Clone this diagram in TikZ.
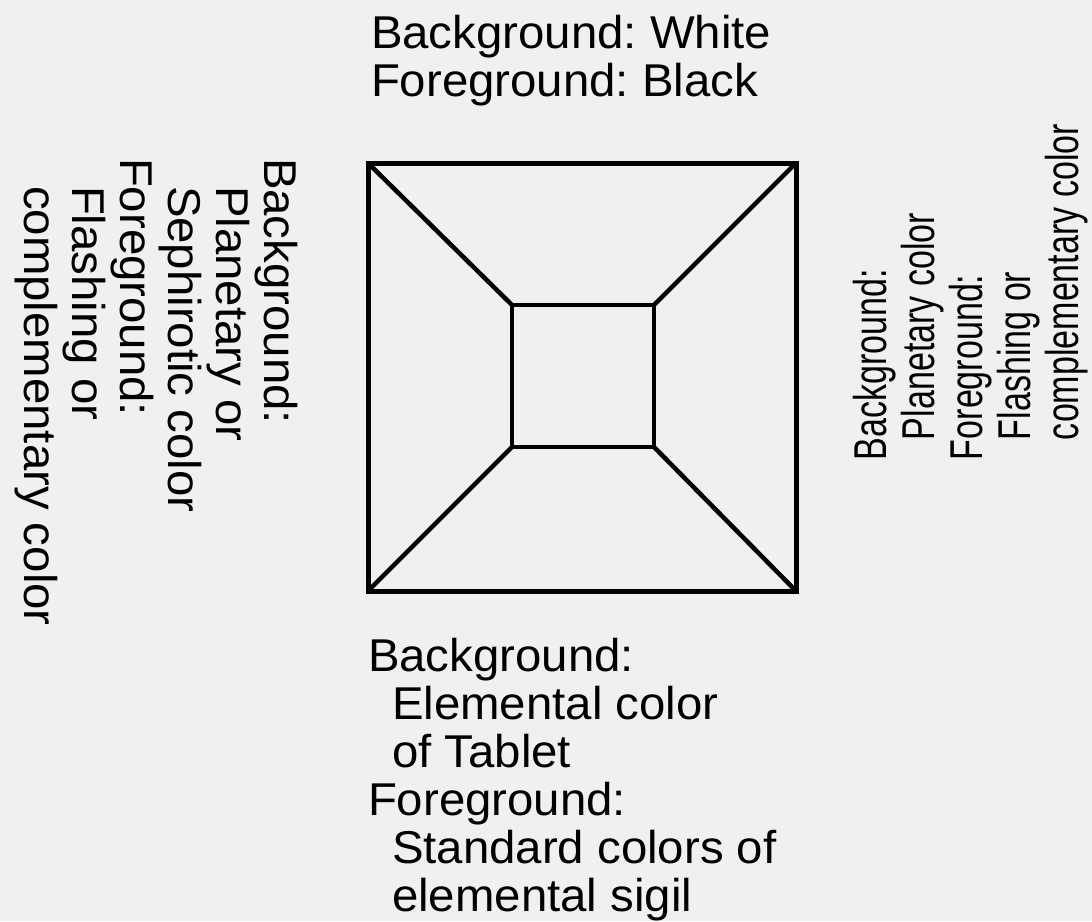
\documentclass[tikz,border=0pt]{standalone}
\usepackage{fontspec}
\setmainfont[FakeStretch=1.03]{Liberation Sans}
\newfontfamily\narrowfont[FakeStretch=0.74]{Liberation Sans}
\definecolor{bg}{HTML}{F0F0F0}
\begin{document}
\frenchspacing
\begin{tikzpicture}[x=1pt,y=-1pt,
  lbl/.style={inner sep=0pt, outer sep=0pt, align=left, text=black,
    font=\fontsize{46}{48}\selectfont\frenchspacing},
  narrowlbl/.style={lbl, font=\narrowfont\fontsize{46}{48}\selectfont\frenchspacing},
  frame/.style={draw=black, line width=5pt, line join=miter}]
\fill[bg] (0,0) rectangle (1092,921);
\useasboundingbox (0,0) rectangle (1092,921);
% square corners
\coordinate (o1) at (368,163);
\coordinate (o2) at (796,163);
\coordinate (o3) at (796,591);
\coordinate (o4) at (368,591);
\coordinate (i1) at (512,305);
\coordinate (i2) at (654,305);
\coordinate (i3) at (654,447);
\coordinate (i4) at (512,447);
\draw[frame] (o1) -- (o2) -- (o3) -- (o4) -- cycle;
\draw[frame, line width=4.5pt] (i1) -- (i2) -- (i3) -- (i4) -- cycle;
\draw[frame, line width=4.5pt] (o1) -- (i1) (o2) -- (i2) (o3) -- (i3) (o4) -- (i4);
% labels
\node[lbl, anchor=north west] (top) at (371,15)
  {Background: White\\Foreground: Black};
\node[lbl, anchor=north west] (bottom) at (368,638)
  {Background:\\\hspace*{24pt}Elemental color\\\hspace*{24pt}of Tablet\\Foreground:\\\hspace*{24pt}Standard colors of\\\hspace*{24pt}elemental sigil};
\node[lbl, rotate=-90, anchor=north west] (left) at (298,158)
  {Background:\\\hspace*{28pt}Planetary or\\\hspace*{28pt}Sephirotic color\\Foreground:\\\hspace*{28pt}Flashing or\\\hspace*{28pt}complementary color};
\node[narrowlbl, rotate=90, anchor=north west] (right) at (853,460)
  {Background:\\\hspace*{20pt}Planetary color\\Foreground:\\\hspace*{20pt}Flashing or\\\hspace*{20pt}complementary color};
\end{tikzpicture}
\end{document}
